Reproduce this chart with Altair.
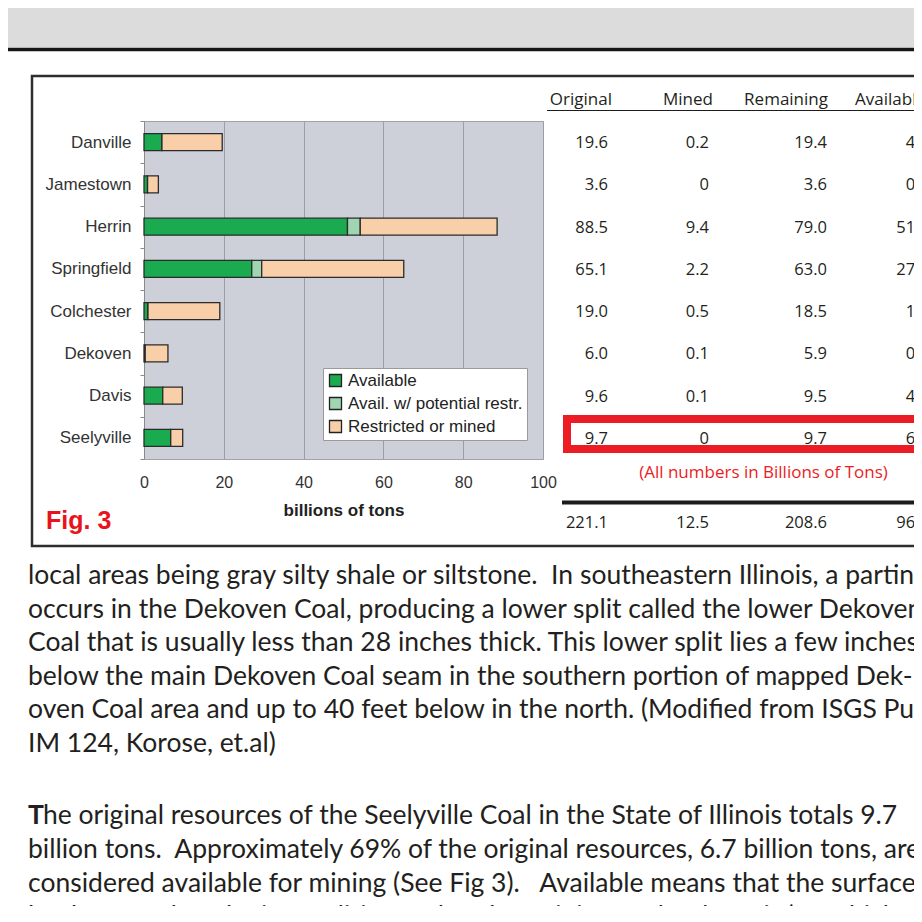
import altair as alt
import pandas as pd

# ---------------- data ----------------
coals = ["Danville", "Jamestown", "Herrin", "Springfield", "Colchester", "Dekoven", "Davis", "Seelyville"]
original = [19.6, 3.6, 88.5, 65.1, 19.0, 6.0, 9.6, 9.7]
mined = [0.2, 0, 9.4, 2.2, 0.5, 0.1, 0.1, 0]
remaining = [19.4, 3.6, 79.0, 63.0, 18.5, 5.9, 9.5, 9.7]
available = [4.5, 0.9, 51.0, 27.0, 1.0, 0.3, 4.7, 6.7]
potential = [0, 0, 3.2, 2.5, 0, 0, 0, 0]
categories = ["Available", "Avail. w/ potential restr.", "Restricted or mined"]
cat_colors = ["#1aaa50", "#9fd5b0", "#f9cfaa"]
columns = ["Original", "Mined", "Remaining", "Available"]
x_ticks = [0, 20, 40, 60, 80, 100]
x_title = "billions of tons"
fig_label = "Fig. 3"
note = "(All numbers in Billions of Tons)"
SP2 = "\u00a0 "
para1 = [
    "local areas being gray silty shale or siltstone." + SP2 + "In southeastern Illinois, a parting",
    "occurs in the Dekoven Coal, producing a lower split called the lower Dekoven",
    "Coal that is usually less than 28 inches thick. This lower split lies a few inches",
    "below the main Dekoven Coal seam in the southern portion of mapped Dek-",
    "oven Coal area and up to 40 feet below in the north. (Modified from ISGS Pub.",
    "IM 124, Korose, et.al)",
]
para2 = [
    "The original resources of the Seelyville Coal in the State of Illinois totals 9.7",
    "billion tons." + SP2 + "Approximately 69% of the original resources, 6.7 billion tons, are",
    "considered available for mining (See Fig 3)." + SP2 + "\u00a0Available means that the surface",
    "land-use and geologic conditions related to mining of the deposit (e.g. thickness",
]

# ---------------- layout (reference pixel coords) ----------------
OX, OY = 144, 121          # plot origin in page coords
PW, PH = 399, 338          # plot size
SVG_W, SVG_H = 906, 898
PAD = {"left": OX - 8, "top": OY - 8,
       "right": SVG_W - (OX - 8) - PW, "bottom": SVG_H - (OY - 8) - PH}

AX_FONT = "Liberation Sans"
TAB_FONT = "Open Sans"
BODY_FONT = "Lato"
TXT = "#231f20"
RED = "#ec1c24"

one = pd.DataFrame({"k": [0]})


def px(X):
    return X - OX


def py(Y):
    return Y - OY


def rect(x1, y1, x2, y2, **kw):
    return alt.Chart(one).mark_rect(**kw).encode(
        x=alt.value(px(x1)), x2=alt.value(px(x2)), y=alt.value(py(y1)), y2=alt.value(py(y2)))


def hrule(x1, x2, y, color, width):
    return alt.Chart(one).mark_rule(color=color, strokeWidth=width).encode(
        x=alt.value(px(x1)), x2=alt.value(px(x2)), y=alt.value(py(y)))


def label(X, Y, txt, **kw):
    return alt.Chart(one).mark_text(**kw).encode(
        x=alt.value(px(X)), y=alt.value(py(Y)), text=alt.value(txt))


# ---------------- bar chart ----------------
rows = []
for i, c in enumerate(coals):
    restricted = round(original[i] - available[i] - potential[i], 3)
    for k, (cat, v) in enumerate(zip(categories, [available[i], potential[i], restricted])):
        rows.append({"coal": c, "category": cat, "value": v, "ord": k})
bar_df = pd.DataFrame(rows)

y_enc = alt.Y(
    "coal:N", sort=coals, title=None,
    scale=alt.Scale(paddingInner=0, paddingOuter=0),
    axis=alt.Axis(labelFont=AX_FONT, labelFontSize=17, labelColor="#333333",
                  tickBand="extent", tickSize=4, tickColor="#8a8a8a",
                  domainColor="#8a8a8a", labelPadding=9, grid=False),
)

bars = alt.Chart(bar_df).mark_bar(size=17, stroke="#2b2b2b", strokeWidth=1.3).encode(
    x=alt.X("value:Q", stack="zero", title=x_title,
            scale=alt.Scale(domain=[0, 100], nice=False),
            axis=alt.Axis(values=x_ticks, labelFont=AX_FONT, labelFontSize=16,
                          labelColor="#333333", ticks=False, domain=False,
                          labelPadding=15, labelFlush=False, grid=True,
                          gridColor="#9b9ea6", titleFont=AX_FONT,
                          titleFontWeight="bold", titleFontSize=17,
                          titleColor="#222222", titlePadding=12)),
    y=y_enc,
    color=alt.Color("category:N", scale=alt.Scale(domain=categories, range=cat_colors),
                    legend=alt.Legend(orient="none", legendX=179, legendY=247, title=None,
                                      fillColor="white", strokeColor="#9a9a9a", padding=4,
                                      rowPadding=4, symbolType="square", symbolSize=144,
                                      symbolStrokeColor="#222222", symbolStrokeWidth=1.3,
                                      symbolOpacity=1, labelFont=AX_FONT, labelFontSize=17,
                                      labelColor="#222222", labelOffset=4, labelLimit=400)),
    order=alt.Order("ord:Q"),
)

# ---------------- table ----------------
tab_df = pd.DataFrame({"coal": coals, "Original": original, "Mined": mined,
                       "Remaining": remaining, "Available": available})
col_right = [608, 709, 827, 929]
head_right = [612, 713, 828, 926]

table_layers = []
for j, (col, X) in enumerate(zip(columns, col_right)):
    table_layers.append(
        alt.Chart(tab_df).transform_calculate(
            **{f"lbl{j}": f"datum['{col}'] == 0 ? '0' : format(datum['{col}'], '.1f')"}
        ).mark_text(align="right", baseline="middle", font=TAB_FONT, fontSize=16.5,
                    color=TXT, dy=1).encode(x=alt.value(px(X)), y=y_enc, text=f"lbl{j}:N")
    )
    table_layers.append(
        alt.Chart(tab_df).transform_aggregate(**{f"tot{j}": f"sum({col})"})
        .mark_text(align="right", baseline="middle", font=TAB_FONT, fontSize=16.5, color=TXT)
        .encode(x=alt.value(px(X)), y=alt.value(py(523)),
                text=alt.Text(f"tot{j}:Q", format=".1f"))
    )
for col, X in zip(columns, head_right):
    table_layers.append(label(X, 100, col, align="right", baseline="middle",
                              font=TAB_FONT, fontSize=17, color=TXT))

# ---------------- decorations ----------------
deco = [
    rect(-10, 0, 940, 47.5, fill="#dcdcdc"),
    hrule(-10, 940, 49.5, "#151515", 3.5),
    rect(32, 76, 950, 546, fillOpacity=0, stroke="#2e2e2e", strokeWidth=2.5),
]
overlay = [
    rect(567, 419, 950, 449, fillOpacity=0, stroke=RED, strokeWidth=8),
    hrule(562, 950, 502.5, "#1c1c1c", 4),
    hrule(547, 950, 110.5, "#1c1c1c", 1.2),
    label(763.5, 472.5, note, align="center", baseline="middle", font=TAB_FONT,
          fontSize=17, color=RED),
    label(46, 529, fig_label, align="left", baseline="alphabetic", font=AX_FONT,
          fontSize=25, fontWeight="bold", color="#e8141b"),
]

FS = 26.5
LH1 = 33.5
LH2 = 33.8
B1 = 584
B2 = 824
p1 = alt.Chart(pd.DataFrame({"t": ["\n".join(para1)]})).mark_text(
    align="left", baseline="alphabetic", font=BODY_FONT, fontSize=FS, color=TXT,
    lineBreak="\n", lineHeight=LH1).encode(x=alt.value(px(28)), y=alt.value(py(B1)), text="t:N")
p2_T = label(28, B2, para2[0][0], align="left", baseline="alphabetic",
             font=BODY_FONT, fontSize=FS, fontWeight="bold", color=TXT)
p2_first = label(43, B2, para2[0][1:], align="left", baseline="alphabetic",
                 font=BODY_FONT, fontSize=FS, color=TXT)
p2_rest = alt.Chart(pd.DataFrame({"t": ["\n".join(para2[1:])]})).mark_text(
    align="left", baseline="alphabetic", font=BODY_FONT, fontSize=FS, color=TXT,
    lineBreak="\n", lineHeight=LH2).encode(x=alt.value(px(28)), y=alt.value(py(B2 + LH2)), text="t:N")

chart = alt.layer(
    *deco, bars, *table_layers, *overlay, p1, p2_T, p2_first, p2_rest
).properties(
    width=PW, height=PH, padding=PAD,
    autosize=alt.AutoSizeParams(type="none"),
    background="white",
).configure_view(fill="#cdd0d8", stroke="#a2a2a2", strokeWidth=1)

chart.save("out.html", embed_options={"renderer": "svg", "actions": False})
